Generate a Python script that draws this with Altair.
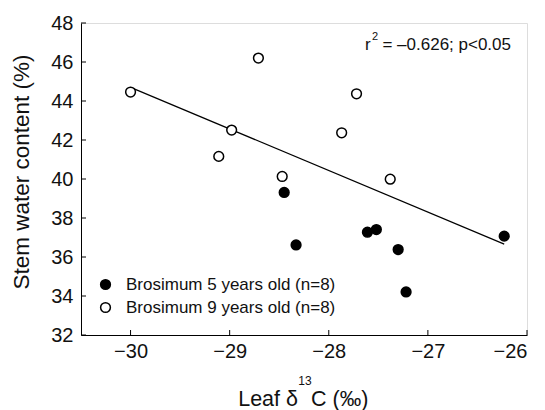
import altair as alt
import pandas as pd

# data
young_x = [-28.45, -28.33, -27.61, -27.52, -27.30, -27.22, -26.23]
young_y = [39.31, 36.62, 37.27, 37.41, 36.38, 34.21, 37.07]
old_x = [-30.00, -28.71, -28.98, -29.11, -28.47, -27.87, -27.72, -27.38]
old_y = [44.46, 46.20, 42.51, 41.16, 40.13, 42.37, 44.37, 39.99]
groups = ["Brosimum 5 years old (n=8)", "Brosimum 9 years old (n=8)"]
fit_x = [-30.0, -26.23]
fit_y = [44.70, 36.66]
x_ticks = [-30, -29, -28, -27, -26]
y_ticks = [32, 34, 36, 38, 40, 42, 44, 46, 48]

FONT = "Liberation Sans"
W, H = 446, 312

pts = pd.DataFrame({
    "x": young_x + old_x,
    "y": young_y + old_y,
    "g": [groups[0]] * len(young_x) + [groups[1]] * len(old_x),
})
fit = pd.DataFrame({"x": fit_x, "y": fit_y})
xt = pd.DataFrame({"v": x_ticks})
yt = pd.DataFrame({"v": y_ticks})

xs = alt.Scale(domain=[-30.5, -26], nice=False, zero=False)
ys = alt.Scale(domain=[32, 48], nice=False, zero=False)

xax = alt.Axis(values=x_ticks, format="d", ticks=False, grid=False, labelFontSize=20, labelPadding=6,
               labelColor="#111", domainColor="black", title=None, labelFont=FONT, labelOverlap=False)
yax = alt.Axis(values=y_ticks, format="d", ticks=False, grid=False, labelFontSize=20, labelPadding=8,
               labelColor="#111", domainColor="black", title=None, labelFont=FONT, labelOverlap=False)

line = alt.Chart(fit).mark_line(color="black", strokeWidth=1.2).encode(
    x=alt.X("x:Q", scale=xs, axis=xax), y=alt.Y("y:Q", scale=ys, axis=yax)
)

points = alt.Chart(pts).mark_circle(size=95, stroke="black", strokeWidth=1.5, opacity=1).encode(
    x=alt.X("x:Q", scale=xs, axis=xax),
    y=alt.Y("y:Q", scale=ys, axis=yax),
    fill=alt.Fill("g:N", scale=alt.Scale(domain=groups, range=["black", "white"]),
                  legend=alt.Legend(orient="none", legendX=16, legendY=253, title=None,
                                    symbolType="circle", symbolSize=95,
                                    symbolStrokeColor="black", symbolStrokeWidth=1.5,
                                    labelFontSize=17, labelFont=FONT, labelColor="#111",
                                    labelLimit=0, labelOffset=12, rowPadding=5, padding=0)),
)

xtick = alt.Chart(xt).mark_rule(color="black", strokeWidth=1).encode(
    x=alt.X("v:Q", scale=xs, axis=xax), y=alt.value(H), y2=alt.value(H - 5)
)
ytick = alt.Chart(yt).mark_rule(color="black", strokeWidth=1).encode(
    y=alt.Y("v:Q", scale=ys, axis=yax), x=alt.value(0), x2=alt.value(5)
)

def txt(s, x, y, size, align="left", baseline="alphabetic", angle=0):
    return alt.Chart(pd.DataFrame({"t": [s]})).mark_text(
        align=align, baseline=baseline, fontSize=size, font=FONT, color="#111", angle=angle
    ).encode(text="t:N", x=alt.value(x), y=alt.value(y))

annot = [
    txt("r", 284, 27, 17),
    txt("2", 291, 17, 11),
    txt("= \u20130.626; p<0.05", 430, 27, 17, align="right"),
]

xtitle = [
    txt("Leaf \u03b4", 217, 383, 21.5, align="right"),
    txt("13", 224, 362, 12, align="center"),
    txt("C (\u2030)", 230, 383, 21.5),
]
ytitle = txt("Stem water content (%)", -59, 149, 22.5, align="center", baseline="middle", angle=270)

chart = alt.layer(line, points, xtick, ytick, *annot, *xtitle, ytitle).properties(
    width=W, height=H,
    autosize=alt.AutoSizeParams(type="none"),
    padding={"left": 73, "top": 15, "right": 8, "bottom": 75},
).configure_view(stroke="black", strokeWidth=1).configure(font=FONT)

chart.save("out.html", embed_options={"renderer": "svg", "actions": False})
